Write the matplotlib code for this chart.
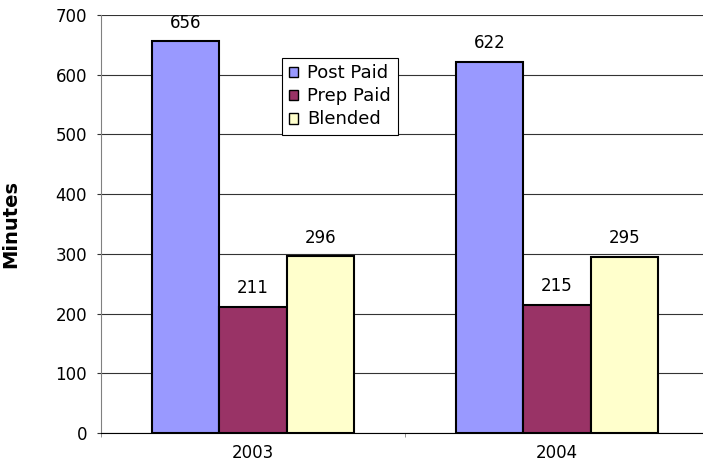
import numpy as np
import matplotlib
matplotlib.use('Agg')
import matplotlib.pyplot as plt

# データ
years = ['2003', '2004']
series_names = ['Post Paid', 'Prep Paid', 'Blended']
post_paid = [656, 622]
prep_paid = [211, 215]
blended = [296, 295]
colors = ['#9999FF', '#993366', '#FFFFCC']

plt.rcParams['font.family'] = ['DejaVu Sans']
fs = 12

fig = plt.figure(figsize=(7.03, 4.61), dpi=100)
ax = fig.add_axes([101 / 703, 28 / 461, 608 / 703, 418 / 461])

x = np.arange(len(years))
width = 1 / 4.5
for i, (name, vals) in enumerate(zip(series_names, [post_paid, prep_paid, blended])):
    pos = x + (i - 1) * width
    bars = ax.bar(pos, vals, width, color=colors[i], edgecolor='black',
                  linewidth=1.5, label=name, zorder=3)
    for b, v in zip(bars, vals):
        ax.annotate(str(v), (b.get_x() + b.get_width() / 2, v),
                    xytext=(0, 7), textcoords='offset points',
                    ha='center', va='bottom', fontsize=fs, zorder=4)

# 軸の設定
ax.set_xlim(-0.5, 1.5)
ax.set_ylim(0, 700)
ax.set_yticks(np.arange(0, 701, 100))
ax.yaxis.grid(True, color='#333333', linewidth=0.8, zorder=0)
ax.set_xticks(x)
ax.set_xticklabels(years)
ax.set_xticks([-0.5, 0.5, 1.5], minor=True)
ax.tick_params(axis='x', which='major', length=0, pad=8, labelsize=fs)
ax.tick_params(axis='x', which='minor', length=3, color='#808080')
ax.tick_params(axis='y', length=3, pad=7, labelsize=fs, color='#333333')

for s in ['top', 'right']:
    ax.spines[s].set_visible(False)
ax.spines['left'].set_color('#808080')
ax.spines['bottom'].set_color('black')

ax.set_ylabel('Minutes', fontsize=14, fontweight='bold')
ax.yaxis.set_label_coords(-0.132, 0.5)

leg = ax.legend(loc='upper left', bbox_to_anchor=(0.298, 0.897),
                borderaxespad=0, fancybox=False, framealpha=1,
                edgecolor='black', fontsize=13, handlelength=0.55,
                handleheight=0.55, handletextpad=0.5, labelspacing=0.28,
                borderpad=0.35)
leg.get_frame().set_linewidth(0.8)
for p in leg.get_patches():
    p.set_linewidth(1.0)

fig.savefig('out.png', dpi=100)
